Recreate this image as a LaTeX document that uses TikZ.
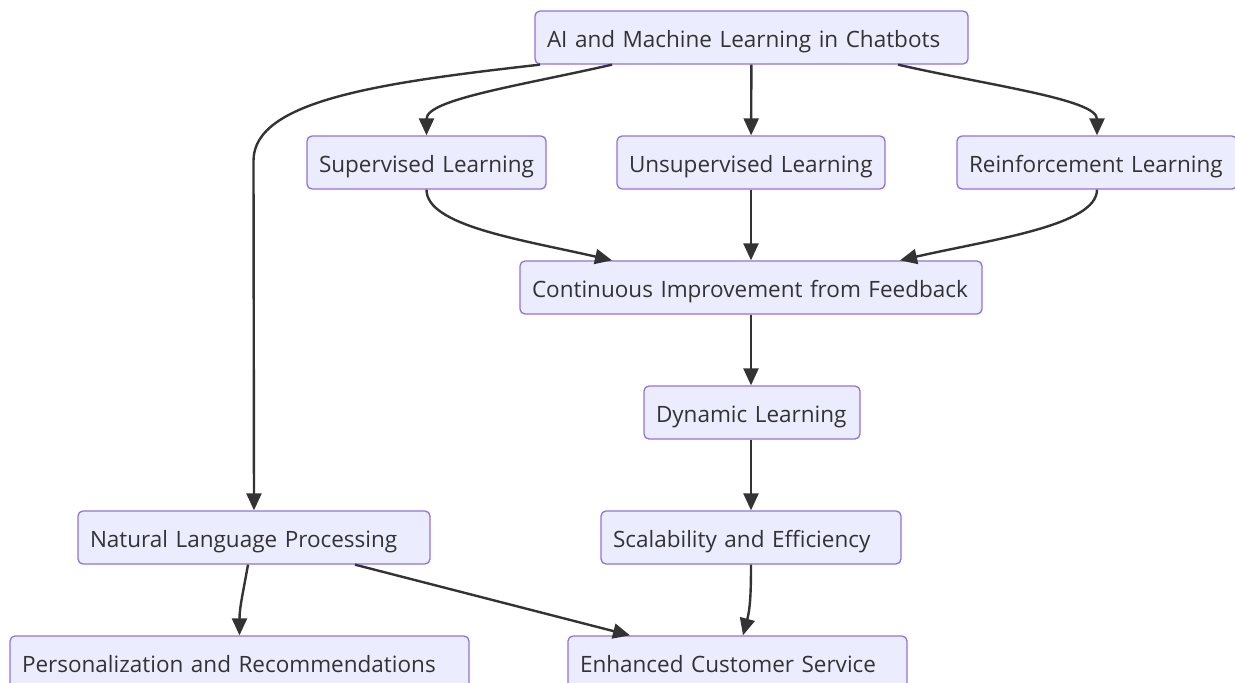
\documentclass[tikz,border=0pt]{standalone}
\usepackage{fontspec}
\setmainfont{Open Sans}
\usepackage{tikz}
\usetikzlibrary{positioning}
\usetikzlibrary{calc,arrows.meta}

\definecolor{boxfill}{HTML}{ECECFF}
\definecolor{boxline}{HTML}{9370DB}
\definecolor{ink}{HTML}{333333}

\begin{document}
\begin{tikzpicture}
	[   x=1pt,y=-1pt,
		bnode/.style={draw=boxline,fill=boxfill,line width=1.3pt,rounded corners=5pt,
			minimum height=53pt,inner xsep=12pt,inner ysep=0pt,text width=#1,align=left,
			text height=19pt,text depth=0pt,
			text=ink,font=\fontsize{22.5}{26}\selectfont},
	]
	\tikzset{normal arrow/.style={draw=ink,line width=2.4pt,-{Triangle[length=17pt,width=15pt]}}}
	\clip (0,0) rectangle (1235,683);
	
	\node[bnode=409pt] (ai) at (751.5,37.5) {AI and Machine Learning in Chatbots};
	
	\node[bnode=215pt] (sup) at (426.5,162.5) {Supervised Learning};
	\node[bnode=244pt] (unsup) at (751,162.5) {Unsupervised Learning};
	\node[bnode=256pt] (reinf) at (1097,162.5) {Reinforcement Learning};
	
	\node[bnode=438pt] (cont) at (751,287.5) {Continuous Improvement from Feedback};
	\node[bnode=192pt] (dyn) at (752,412.5) {Dynamic Learning};
	\node[bnode=276pt] (scal) at (751,537.5) {Scalability and Efficiency};
	\node[bnode=328pt] (nlp) at (254,537.5) {Natural Language Processing};
	
	\node[bnode=435pt] (pers) at (239.5,662.5) {Personalization and Recommendations};
	\node[bnode=315pt] (enh) at (737.5,662.5) {Enhanced Customer Service};
	
	% from the top node
	\path[normal arrow] ([xshift=-211.5pt]ai.south) .. controls +(-160,18) and +(0,-60) .. ++(-286.5,96) -- (nlp.north);
	\path[normal arrow] ([xshift=-139.5pt]ai.south) .. controls +(-92,21) and +(0,-36) .. (sup.north);
	\path[normal arrow] (ai) -- (unsup);
	\path[normal arrow] ([xshift=146.5pt]ai.south) .. controls +(92,21) and +(0,-36) .. (reinf.north);
	
	% learning kinds into feedback
	\path[normal arrow] (sup.south) .. controls +(0,36) and +(-92,-21) .. ([xshift=-139pt]cont.north);
	\path[normal arrow] (unsup) -- (cont);
	\path[normal arrow] (reinf.south) .. controls +(0,36) and +(92,-21) .. ([xshift=149pt]cont.north);
	
	\path[normal arrow] (cont) -- (dyn.north -| cont.south);
	\path[normal arrow] (dyn.south -| cont.south) -- (scal);
	
	% bottom row
	\path[normal arrow] ([xshift=-6pt]nlp.south) to[out=-100,in=90] (pers.north);
	\path[normal arrow] ([xshift=101pt]nlp.south) -- ([xshift=-107.5pt]enh.north);
	\path[normal arrow] (scal.south) to[out=-90,in=75] ([xshift=5.5pt]enh.north);
\end{tikzpicture}
\end{document}
